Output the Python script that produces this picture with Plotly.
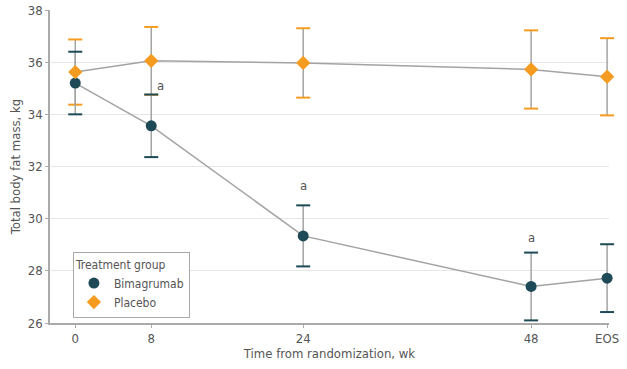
import plotly.graph_objects as go

# Data
weeks = [0, 8, 24, 48, 56]          # EOS placed after week 48
tick_labels = ["0", "8", "24", "48", "EOS"]
bima_mean = [35.2, 33.56, 29.34, 27.4, 27.72]
bima_err = [1.2, 1.2, 1.17, 1.3, 1.3]
plac_mean = [35.62, 36.05, 35.97, 35.72, 35.44]
plac_err = [1.25, 1.3, 1.33, 1.5, 1.48]
sig_weeks = [8, 24, 48]
sig_idx = [1, 2, 3]
sig_shift = [(9, 9), (0, 20), (0, 15)]

DARK = "#1d4a56"
ORANGE = "#f49b20"
GREY = "#a3a3a3"
TXT = "#555555"
FONT = "Liberation Sans Narrow, DejaVu Sans Condensed, sans-serif"

fig = go.Figure()

def add_series(mean, err, color):
    fig.add_trace(go.Scatter(
        x=weeks, y=mean, mode="lines",
        line=dict(color=GREY, width=1.5),
        error_y=dict(type="data", array=err, color=GREY, thickness=1.5, width=0),
        showlegend=False, hoverinfo="skip", cliponaxis=False))
    caps_y = [m + e for m, e in zip(mean, err)] + [m - e for m, e in zip(mean, err)]
    fig.add_trace(go.Scatter(
        x=weeks + weeks, y=caps_y, mode="markers",
        marker=dict(symbol="line-ew", size=10, color=color, line=dict(color=color, width=2)),
        showlegend=False, hoverinfo="skip", cliponaxis=False))

add_series(plac_mean, plac_err, ORANGE)
add_series(bima_mean, bima_err, DARK)

fig.add_trace(go.Scatter(
    x=weeks, y=bima_mean, mode="markers", name="Bimagrumab",
    marker=dict(symbol="circle", size=11, color=DARK), cliponaxis=False))
fig.add_trace(go.Scatter(
    x=weeks, y=plac_mean, mode="markers", name="Placebo",
    marker=dict(symbol="diamond", size=11, color=ORANGE), cliponaxis=False))

for w, i, (dx, dy) in zip(sig_weeks, sig_idx, sig_shift):
    top = bima_mean[i] + bima_err[i]
    fig.add_annotation(x=w, y=top, text="a", showarrow=False,
                       xshift=dx, yshift=dy, font=dict(family=FONT, size=13, color=TXT))

fig.update_layout(
    width=627, height=369,
    margin=dict(l=50, r=18, t=10, b=46, autoexpand=False),
    plot_bgcolor="white", paper_bgcolor="white",
    font=dict(family=FONT, size=13, color=TXT),
    legend=dict(
        title=dict(text="Treatment group", font=dict(family=FONT, size=12, color=TXT)),
        x=0.041, y=0.227, xanchor="left", yanchor="top",
        bordercolor="#aaa", borderwidth=1, bgcolor="white",
        font=dict(family=FONT, size=12, color=TXT),
        tracegroupgap=0, itemwidth=30),
)
fig.update_xaxes(
    range=[-2.66, 56.2], tickvals=weeks, ticktext=tick_labels, automargin=False,
    showgrid=False, zeroline=False,
    showline=True, linecolor="#aaa", linewidth=1.5,
    ticks="outside", tickcolor="#aaa", ticklen=3,
    tickfont=dict(family=FONT, size=13, color=TXT),
    title=dict(text="Time from randomization, wk", font=dict(family=FONT, size=13, color=TXT), standoff=4))
fig.update_yaxes(
    range=[26, 38], dtick=2, automargin=False,
    showgrid=True, gridcolor="#e6e6e6", gridwidth=1, zeroline=False,
    showline=True, linecolor="#aaa", linewidth=1.5,
    ticks="outside", tickcolor="#aaa", ticklen=3,
    tickfont=dict(family=FONT, size=13, color=TXT),
    title=dict(text="Total body fat mass, kg", font=dict(family=FONT, size=13, color=TXT), standoff=4))

fig.write_html("out.html", config={"displayModeBar": False},
               post_script="document.body.style.margin='0';")
